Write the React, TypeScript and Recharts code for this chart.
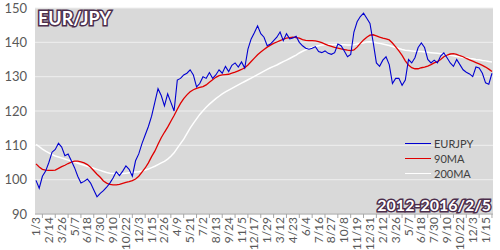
import { CartesianGrid, Line, LineChart, XAxis, YAxis } from 'recharts'

// 2012/1/3 - 2016/2/5, one point every ~7-8 trading days (4 per tick step)
const tickLabels = [
  '1/3', '2/14', '3/26', '5/7', '6/18', '7/30', '9/10', '10/22', '12/3',
  '1/15', '2/26', '4/9', '5/21', '7/2', '8/13', '9/24', '11/5', '12/17',
  '1/29', '3/12', '4/23', '6/4', '7/16', '8/27', '10/8', '11/19', '12/31',
  '2/12', '3/26', '5/7', '6/18', '7/30', '9/10', '10/22', '12/3', '1/15',
]

const eurjpy = [
  99.8, 97.5, 101.0, 102.5, 105.0, 108.0, 108.8, 110.6, 109.5, 107.0,
  107.5, 105.5, 103.5, 101.0, 99.0, 99.5, 100.2, 99.0, 97.0, 95.0,
  96.0, 96.8, 97.8, 99.0, 100.5, 102.3, 101.2, 102.5, 104.0, 103.0,
  101.0, 105.5, 107.5, 110.5, 113.0, 115.5, 118.5, 122.5, 126.5, 124.5,
  121.5, 125.0, 122.5, 120.0, 129.0, 129.5, 130.5, 131.0, 132.0, 130.5,
  127.0, 128.0, 130.0, 129.5, 131.2, 129.5, 130.5, 132.0, 131.0, 133.0,
  131.5, 133.3, 134.0, 132.8, 134.3, 132.5, 138.0, 141.0, 142.8, 144.8,
  142.5, 141.5, 139.0, 139.5, 140.5, 141.5, 143.0, 140.5, 142.5, 141.0,
  141.3, 141.8, 140.0, 139.0, 138.3, 138.0, 138.3, 138.7, 137.3, 137.0,
  137.5, 136.8, 136.5, 137.0, 139.5, 139.0, 137.5, 135.8, 136.5, 143.0,
  146.0, 147.5, 148.5, 147.0, 145.5, 140.0, 134.0, 133.0, 134.8, 135.8,
  133.5, 128.0, 129.5, 129.5, 127.5, 129.0, 135.0, 134.0, 135.5, 138.5,
  139.8, 138.5, 135.0, 134.0, 134.8, 134.0, 136.0, 136.9, 135.5, 134.0,
  133.0, 135.0, 133.5, 132.0, 131.3, 130.8, 130.0, 132.8, 132.5, 131.0,
  128.2, 127.8, 131.0,
]

const ma90 = [
  104.6, 103.7, 103.0, 102.8, 102.7, 102.7, 102.8, 103.3, 103.8, 104.2,
  104.7, 105.1, 105.4, 105.4, 105.2, 104.9, 104.4, 103.6, 102.6, 101.6,
  100.7, 99.6, 99.0, 98.6, 98.5, 98.5, 98.6, 98.9, 99.2, 99.4,
  99.7, 100.2, 101.0, 102.2, 103.4, 104.9, 106.7, 108.3, 110.3, 112.2,
  113.8, 115.3, 117.0, 118.7, 120.5, 122.2, 123.6, 124.7, 125.6, 126.2,
  126.6, 126.9, 127.1, 127.6, 128.4, 129.1, 129.8, 130.3, 130.5, 130.6,
  130.7, 131.0, 131.3, 131.7, 132.1, 132.6, 133.4, 134.4, 135.4, 136.4,
  137.2, 137.9, 138.6, 139.2, 139.7, 140.1, 140.5, 140.9, 141.2, 141.4,
  141.5, 141.4, 141.2, 140.8, 140.6, 140.5, 140.5, 140.4, 140.2, 139.9,
  139.5, 139.1, 138.8, 138.5, 138.3, 138.1, 137.9, 137.7, 137.6, 137.8,
  138.6, 139.7, 140.7, 141.5, 142.1, 142.2, 141.9, 141.5, 141.2, 141.0,
  140.7, 139.8, 138.7, 137.5, 136.2, 134.6, 133.4, 132.6, 132.3, 132.3,
  132.6, 132.8, 133.1, 133.5, 134.0, 134.4, 135.0, 135.8, 136.3, 136.6,
  136.7, 136.5, 136.1, 135.8, 135.3, 134.9, 134.5, 134.1, 133.7, 133.3,
  132.8, 132.2, 131.5,
]

const ma200 = [
  110.3, 109.6, 108.9, 108.3, 107.8, 107.3, 106.9, 106.6, 106.3, 106.0,
  105.7, 105.4, 105.1, 104.8, 104.5, 104.2, 103.9, 103.6, 103.3, 103.0,
  102.7, 102.4, 102.1, 101.9, 101.8, 101.7, 101.7, 101.8, 101.9, 102.0,
  102.1, 102.2, 102.3, 102.5, 102.8, 103.1, 103.5, 103.9, 104.4, 104.9,
  105.3, 106.0, 106.8, 107.8, 109.2, 110.5, 111.8, 113.4, 115.0, 116.4,
  117.7, 119.0, 120.1, 121.1, 122.0, 122.8, 123.6, 124.3, 125.0, 125.6,
  126.1, 126.6, 127.1, 127.6, 128.1, 128.6, 129.1, 129.6, 130.1, 130.6,
  131.1, 131.6, 132.1, 132.6, 133.0, 133.4, 133.9, 134.4, 134.8, 135.3,
  135.8, 136.3, 136.9, 137.4, 137.8, 138.2, 138.5, 138.8, 139.0, 139.2,
  139.3, 139.4, 139.4, 139.4, 139.4, 139.3, 139.3, 139.2, 139.2, 139.3,
  139.5, 139.7, 139.9, 140.1, 140.2, 140.1, 139.9, 139.7, 139.5, 139.3,
  139.1, 138.8, 138.5, 138.2, 137.9, 137.7, 137.6, 137.5, 137.4, 137.3,
  137.3, 137.2, 137.1, 137.0, 136.9, 136.8, 136.7, 136.6, 136.4, 136.2,
  136.1, 135.9, 135.8, 135.6, 135.5, 135.3, 135.2, 135.0, 134.9, 134.7,
  134.6, 134.4, 134.3,
]

const yTicks = [90, 95, 100, 105, 110, 115, 120, 125, 130, 135, 140, 145, 150]

const data = eurjpy.map((v, i) => ({
  date: i % 4 === 0 ? tickLabels[i / 4] : '',
  EURJPY: v,
  '90MA': ma90[i],
  '200MA': ma200[i],
}))

const font = 'Lato, "Open Sans", sans-serif'

const DateTick = (props: any) => {
  const { x, y, payload } = props
  return (
    <g transform={`translate(${x},${y})`}>
      <line x1={6.4} x2={6.4} y1={0} y2={4} stroke="#a6a6a6" />
      <text
        transform="rotate(-90)"
        x={-3}
        y={4}
        textAnchor="end"
        fill="#595959"
        fontSize={12}
        fontFamily={font}
      >
        {payload.value}
      </text>
    </g>
  )
}

const legendItems = [
  { name: 'EURJPY', color: '#0000d0' },
  { name: '90MA', color: '#e00000' },
  { name: '200MA', color: '#ffffff' },
]

const outline = {
  fill: '#ffffff',
  stroke: '#4b2d4b',
  strokeWidth: 3,
  paintOrder: 'stroke',
  fontWeight: 700,
  fontFamily: font,
} as const

export default function App() {
  return (
    <div style={{ position: 'fixed', left: 0, top: 0, width: 500, height: 250, background: '#fff' }}>
      <LineChart width={500} height={250} data={data} margin={{ top: 8, right: 7, left: 0, bottom: 0 }}>
        <CartesianGrid vertical={false} fill="#d9d9d9" stroke="#efefef" />
        <XAxis
          dataKey="date"
          interval={3}
          height={36}
          padding={{ left: 1, right: 1 }}
          tickLine={false}
          tickSize={0}
          tickMargin={0}
          stroke="#a6a6a6"
          tick={<DateTick />}
        />
        <YAxis
          domain={[90, 150]}
          ticks={yTicks}
          width={35}
          axisLine={false}
          tickLine={false}
          tickSize={0}
          tickMargin={8}
          tick={{ fill: '#595959', fontSize: 13, fontFamily: font }}
        />
        <Line dataKey="200MA" stroke="#ffffff" strokeWidth={1.5} dot={false} isAnimationActive={false} />
        <Line dataKey="90MA" stroke="#e00000" strokeWidth={1.3} dot={false} isAnimationActive={false} />
        <Line dataKey="EURJPY" stroke="#0000d0" strokeWidth={1.1} dot={false} isAnimationActive={false} />
      </LineChart>
      <div
        style={{
          position: 'absolute',
          left: 405,
          top: 136,
          fontFamily: font,
          fontSize: 11,
          color: '#404040',
          lineHeight: '15px',
        }}
      >
        {legendItems.map((it) => (
          <div key={it.name} style={{ display: 'flex', alignItems: 'center', height: 15 }}>
            <div style={{ width: 26, height: 0, borderTop: `1.5px solid ${it.color}`, marginRight: 3 }} />
            <div>{it.name}</div>
          </div>
        ))}
      </div>
      <svg width={500} height={250} style={{ position: 'absolute', left: 0, top: 0, pointerEvents: 'none' }}>
        <text x={38} y={25} fontSize={18} {...outline}>EUR/JPY</text>
        <text x={491} y={211} fontSize={16} textAnchor="end" {...outline}>2012-2016/2/5</text>
      </svg>
    </div>
  )
}
